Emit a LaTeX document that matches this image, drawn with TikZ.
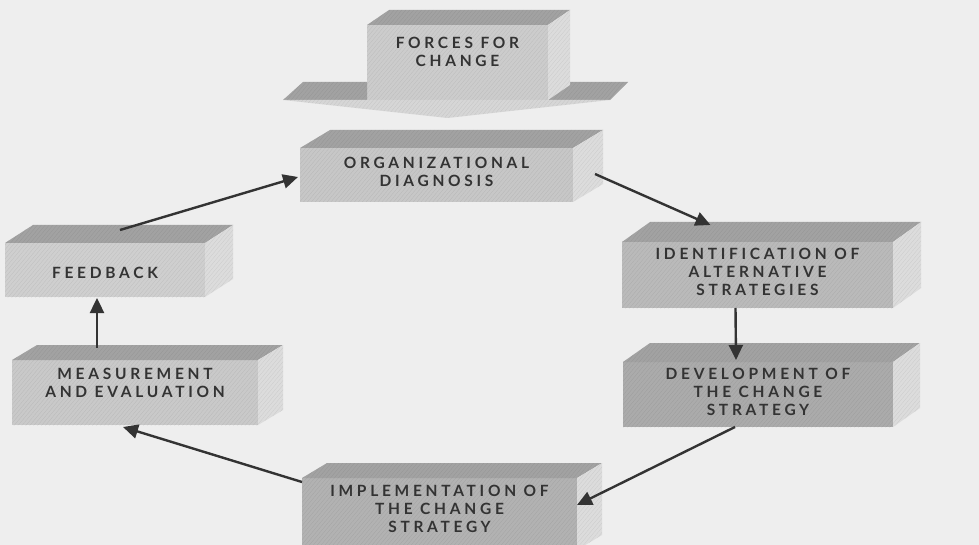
\documentclass[tikz,border=0pt]{standalone}
\usepackage{fontspec}
\setmainfont{Lato}[LetterSpace=24, UprightFont=* Bold]
\usetikzlibrary{arrows.meta,calc,patterns.meta}

\definecolor{paper}{HTML}{EEEEEE}
\definecolor{inkgray}{HTML}{333333}
\definecolor{topgray}{HTML}{A2A2A2}
\definecolor{sidegray}{HTML}{DCDCDC}

% top and right faces of a block whose front face is node #1
\newcommand\blockfaces[3]{%
  \fill[topface] (#1.north west) -- ++(#2,#3) -- ($(#1.north east)+(#2,#3)$) -- (#1.north east) -- cycle;
  \fill[sideface] (#1.north east) -- ++(#2,#3) -- ($(#1.south east)+(#2,#3)$) -- (#1.south east) -- cycle;}

\tikzset{
  grain/.style={postaction={pattern={Lines[angle=50,distance=3pt,line width=0.35pt]},pattern color=black,opacity=0.07}},
  front/.style={fill=#1, grain, inner sep=0pt, outer sep=0pt},
  topface/.style={fill=topgray, grain},
  sideface/.style={fill=sidegray, grain},
  caption/.style={text=inkgray, align=center, inner sep=0pt,
    font=\fontsize{15.5}{18}\selectfont},
  flow/.style={draw=inkgray, line width=2.4pt,
    -{Triangle[length=15pt,width=14pt]}},
}

\begin{document}
\begin{tikzpicture}[x=1pt,y=-1pt]
\useasboundingbox (0,0) rectangle (979,545);
\fill[paper] (0,0) rectangle (979,545);

% --- forces for change: a broad block arrow pointing down ---
\node[front=black!20, minimum width=181pt, minimum height=75pt] (fc) at (457.5,62.5) {};
\fill[topface] ($(fc.south west)+(-84,0)$) -- ++(20,-18) -- ($(fc.south west)+(0,-18)$) -- (fc.south west) -- cycle;
\fill[topface] (fc.south east) -- ++(18,-18) -- ++(62,0) -- ($(fc.south east)+(62,0)$) -- cycle;
\fill[front=black!16] ($(fc.south west)+(-84,0)$) -- ($(fc.south east)+(62,0)$) -- ($(fc.south)+(-10,18)$) -- cycle;
\blockfaces{fc}{22}{-15}
\node[caption] (fctext) at ($(fc.center)+(0,-11)$) {FORCES FOR\\CHANGE};

% --- the six stages ---
\node[front=black!22, minimum width=273pt, minimum height=54pt] (od) at (436.5,175) {};
\blockfaces{od}{30}{-18}
\node[caption] (odtext) at ($(od.center)+(0,-3)$) {ORGANIZATIONAL\\DIAGNOSIS};

\node[front=black!27, minimum width=271pt, minimum height=66pt] (id) at (757.5,275) {};
\blockfaces{id}{28}{-20}
\node[caption] (idtext) at ($(id.center)+(0,-3)$) {IDENTIFICATION OF\\ALTERNATIVE\\STRATEGIES};

\node[front=black!33, minimum width=270pt, minimum height=65pt] (dv) at (758,394.5) {};
\blockfaces{dv}{27}{-19}
\node[caption] (dvtext) at ($(dv.center)+(0,-3)$) {DEVELOPMENT OF\\THE CHANGE\\STRATEGY};

\node[front=black!30, minimum width=275pt, minimum height=72pt] (im) at (439.5,514) {};
\blockfaces{im}{25}{-15}
\node[caption] (imtext) at ($(im.center)+(0,-5)$) {IMPLEMENTATION OF\\THE CHANGE\\STRATEGY};

\node[front=black!21, minimum width=246pt, minimum height=65pt] (ms) at (135,392.5) {};
\blockfaces{ms}{25}{-15}
\node[caption] (mstext) at ($(ms.center)+(0,-10)$) {MEASUREMENT\\AND EVALUATION};

\node[front=black!19, minimum width=200pt, minimum height=54pt] (fb) at (105,270) {};
\blockfaces{fb}{28}{-18}
\node[caption] (fbtext) at ($(fb.center)+(0,3)$) {FEEDBACK};

% --- connectors of the cycle ---
\coordinate (fbtop) at ($(fb.north west)+(115,-13)$);
\coordinate (odside) at ($(od.east)+(22,-1)$);
\coordinate (idtop) at ($(id.north)+(-47,-17)$);
\coordinate (mstop) at ($(ms.north)+(-38,-12)$);

\draw[flow] (fbtop) -- ($(od.west)+(-2,2)$);
\draw[flow] (odside) -- (idtop);
\draw[flow] ($(id.south)+(-22,0)$) -- ($(dv.north)+(-22,-2)$);
\draw[flow] ($(dv.south)+(-23,0)$) -- ($(im.east)+(0,-9)$);
\draw[flow] ($(im.north west)+(0,4)$) -- ($(ms.south)+(-12,2)$);
\draw[flow] (mstop) -- ($(fb.south)+(-8,1)$);
\end{tikzpicture}
\end{document}
